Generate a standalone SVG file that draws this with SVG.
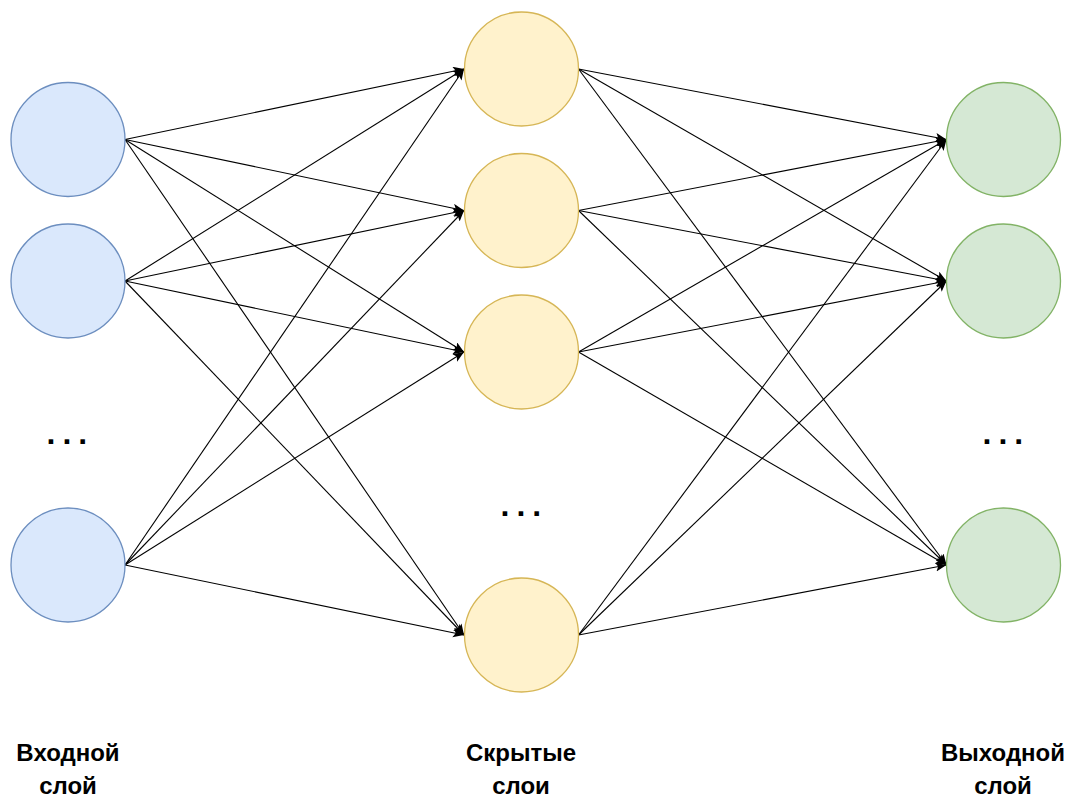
<svg xmlns="http://www.w3.org/2000/svg" width="1078" height="799" viewBox="0 0 1078 799">
<style>
.in{fill:#dae8fc;stroke:#6c8ebf;stroke-width:1.3}
.hid{fill:#fff2cc;stroke:#d6b656;stroke-width:1.3}
.out{fill:#d5e8d4;stroke:#82b366;stroke-width:1.3}
.e{stroke:#000;stroke-width:1.1;fill:none;marker-end:url(#arr)}
.lbl{font-family:"Liberation Sans",Arial,sans-serif;font-weight:bold;font-size:24px;fill:#000;text-anchor:middle}
.dots{font-family:"Liberation Sans",Arial,sans-serif;font-weight:bold;font-size:32px;fill:#000;letter-spacing:7px}
</style>
<defs>
<marker id="arr" markerUnits="userSpaceOnUse" markerWidth="12" markerHeight="10" refX="11" refY="4.5" orient="auto">
<path d="M0,0 L11,4.5 L0,9 L2.5,4.5 z" fill="#000"/>
</marker>
</defs>
<rect width="1078" height="799" fill="#fff"/>
<g id="connectors">
<line class="e" x1="125" y1="139.5" x2="464" y2="69"/>
<line class="e" x1="125" y1="139.5" x2="464" y2="210.5"/>
<line class="e" x1="125" y1="139.5" x2="464" y2="352"/>
<line class="e" x1="125" y1="139.5" x2="464" y2="635"/>
<line class="e" x1="125" y1="281" x2="464" y2="69"/>
<line class="e" x1="125" y1="281" x2="464" y2="210.5"/>
<line class="e" x1="125" y1="281" x2="464" y2="352"/>
<line class="e" x1="125" y1="281" x2="464" y2="635"/>
<line class="e" x1="125" y1="565" x2="464" y2="69"/>
<line class="e" x1="125" y1="565" x2="464" y2="210.5"/>
<line class="e" x1="125" y1="565" x2="464" y2="352"/>
<line class="e" x1="125" y1="565" x2="464" y2="635"/>
<line class="e" x1="578.5" y1="69" x2="946.5" y2="139.5"/>
<line class="e" x1="578.5" y1="69" x2="946.5" y2="281"/>
<line class="e" x1="578.5" y1="69" x2="946.5" y2="565"/>
<line class="e" x1="578.5" y1="210.5" x2="946.5" y2="139.5"/>
<line class="e" x1="578.5" y1="210.5" x2="946.5" y2="281"/>
<line class="e" x1="578.5" y1="210.5" x2="946.5" y2="565"/>
<line class="e" x1="578.5" y1="352" x2="946.5" y2="139.5"/>
<line class="e" x1="578.5" y1="352" x2="946.5" y2="281"/>
<line class="e" x1="578.5" y1="352" x2="946.5" y2="565"/>
<line class="e" x1="578.5" y1="635" x2="946.5" y2="139.5"/>
<line class="e" x1="578.5" y1="635" x2="946.5" y2="281"/>
<line class="e" x1="578.5" y1="635" x2="946.5" y2="565"/>
</g>
<g id="in1"><circle class="in" cx="68" cy="139.5" r="57"/></g>
<g id="in2"><circle class="in" cx="68" cy="281" r="57"/></g>
<g id="in3"><circle class="in" cx="68" cy="565" r="57"/></g>
<g id="h1"><circle class="hid" cx="521.5" cy="69" r="57"/></g>
<g id="h2"><circle class="hid" cx="521.5" cy="210.5" r="57"/></g>
<g id="h3"><circle class="hid" cx="521.5" cy="352" r="57"/></g>
<g id="h4"><circle class="hid" cx="521.5" cy="635" r="57"/></g>
<g id="o1"><circle class="out" cx="1003.5" cy="139.5" r="57"/></g>
<g id="o2"><circle class="out" cx="1003.5" cy="281" r="57"/></g>
<g id="o3"><circle class="out" cx="1003.5" cy="565" r="57"/></g>
<g id="dots-in"><text class="dots" x="46.5" y="444">...</text></g>
<g id="dots-hid"><text class="dots" x="500.5" y="516">...</text></g>
<g id="dots-out"><text class="dots" x="982.5" y="444">...</text></g>
<g id="label-in"><text class="lbl" x="68" y="761">Входной</text><text class="lbl" x="68" y="794">слой</text></g>
<g id="label-hid"><text class="lbl" x="521" y="761">Скрытые</text><text class="lbl" x="521" y="794">слои</text></g>
<g id="label-out"><text class="lbl" x="1003" y="761">Выходной</text><text class="lbl" x="1003" y="794">слой</text></g>
</svg>
